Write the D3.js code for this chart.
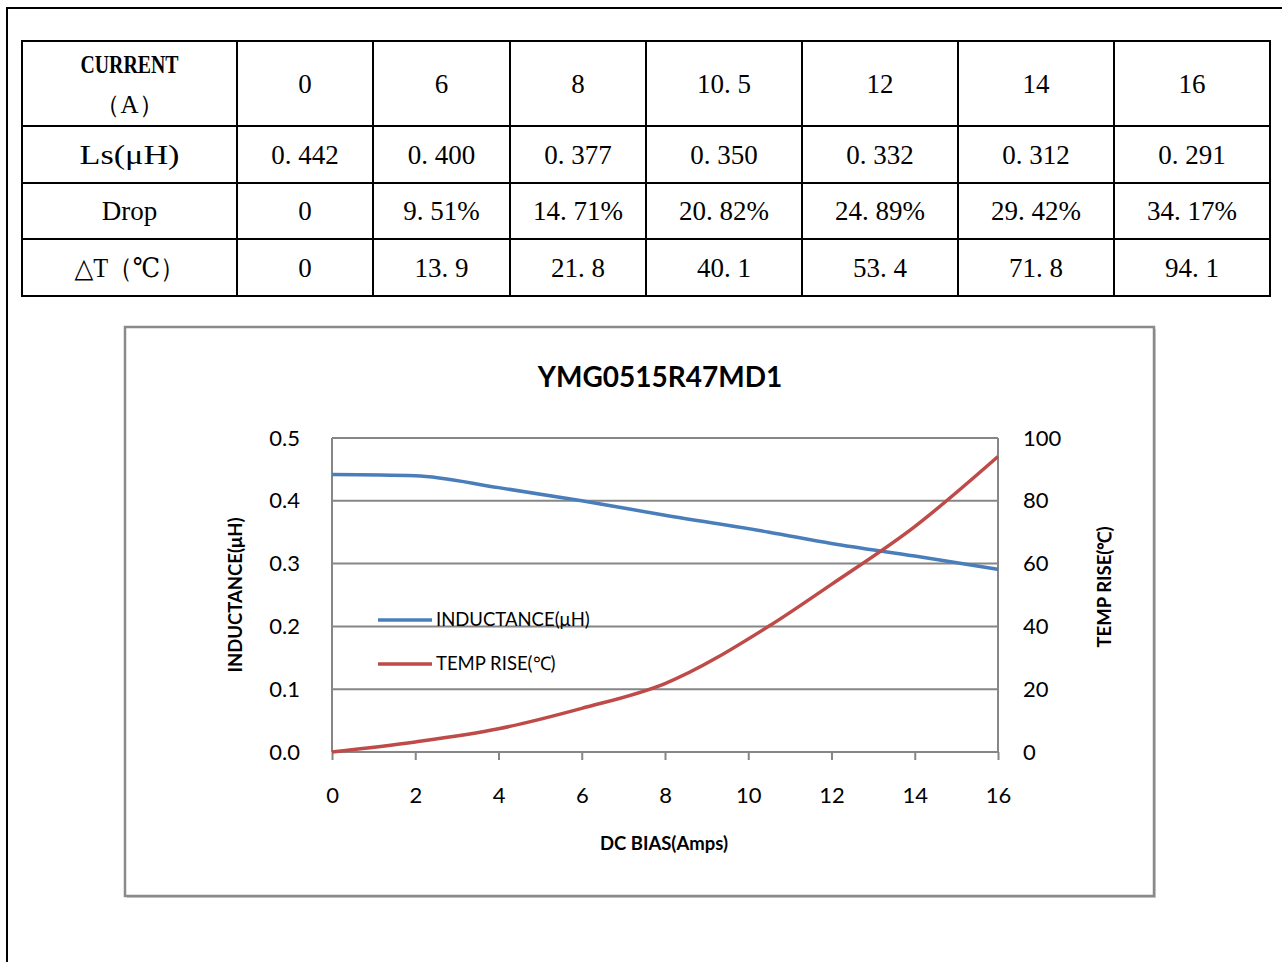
<!DOCTYPE html>
<html>
<head>
<meta charset="utf-8">
<script src="https://cdn.jsdelivr.net/npm/d3@7"></script>
<style>
  body { margin: 0; background: #fff; }
  svg { display: block; }
</style>
</head>
<body>
<svg id="page" width="1282" height="962"></svg>
<script>
// - - - - - - - - - - table data
const current = ['0', '6', '8', '10.5', '12', '14', '16'];
const ls = ['0.442', '0.400', '0.377', '0.350', '0.332', '0.312', '0.291'];
const drop = ['0', '9.51%', '14.71%', '20.82%', '24.89%', '29.42%', '34.17%'];
const deltaT = ['0', '13.9', '21.8', '40.1', '53.4', '71.8', '94.1'];

// - - - - - - - - - - chart data
const biasAmps = [0, 2, 4, 6, 8, 10.5, 12, 14, 16];
const inductance = [0.442, 0.440, 0.421, 0.400, 0.377, 0.350, 0.332, 0.312, 0.291];
const tempRise = [0, 3.2, 7.4, 13.9, 21.8, 40.1, 53.4, 71.8, 94.1];
const xTicks = [0, 2, 4, 6, 8, 10, 12, 14, 16];
const leftTicks = [0, 0.1, 0.2, 0.3, 0.4, 0.5];
const rightTicks = [0, 20, 40, 60, 80, 100];

const svg = d3.select('#page');
const serif = '"Liberation Serif", "DejaVu Serif", serif';
const sans = 'Lato, "Open Sans", sans-serif';

// outer frame
svg.append('rect')
    .attr('x', 7).attr('y', 8).attr('width', 1300).attr('height', 980)
    .attr('fill', 'none').attr('stroke', '#000').attr('stroke-width', 2);

// - - - - - - - - - - table
const colX = [22, 237, 373, 510, 646, 802, 958, 1114, 1270];
const rowY = [41, 126, 183, 239, 296];
const tbl = svg.append('g');

rowY.forEach(y => tbl.append('line')
    .attr('x1', colX[0] - 1).attr('x2', colX[colX.length - 1] + 1)
    .attr('y1', y).attr('y2', y)
    .attr('stroke', '#000').attr('stroke-width', 2));
colX.forEach(x => tbl.append('line')
    .attr('x1', x).attr('x2', x)
    .attr('y1', rowY[0]).attr('y2', rowY[rowY.length - 1])
    .attr('stroke', '#000').attr('stroke-width', 2));

// SimSun-like wide period
const wide = s => s.replace('.', '. ');

function cell(col, row, txt, opt = {}) {
    const cx = (colX[col] + colX[col + 1]) / 2;
    const cy = (rowY[row] + rowY[row + 1]) / 2;
    const t = tbl.append('text')
        .attr('x', cx).attr('y', opt.y || cy)
        .attr('text-anchor', 'middle')
        .attr('dominant-baseline', 'central')
        .attr('font-family', serif)
        .attr('font-size', opt.size || 27)
        .attr('font-weight', opt.weight || 'normal')
        .attr('fill', '#000')
        .text(txt);
    if (opt.ls) t.attr('letter-spacing', opt.ls);
    if (opt.len) t.attr('textLength', opt.len).attr('lengthAdjust', 'spacingAndGlyphs');
    return t;
}

cell(0, 0, 'CURRENT', { y: 64, weight: 'bold', size: 25, len: 98 });
cell(0, 0, '（A）', { y: 104, size: 25 });
cell(0, 1, 'Ls(μH)', { size: 27, len: 100 });
cell(0, 2, 'Drop', { size: 27 });
cell(0, 3, '△T（℃）', { size: 27, len: 110 });

current.forEach((v, i) => cell(i + 1, 0, wide(v)));
ls.forEach((v, i) => cell(i + 1, 1, wide(v)));
drop.forEach((v, i) => cell(i + 1, 2, wide(v)));
deltaT.forEach((v, i) => cell(i + 1, 3, wide(v)));

// - - - - - - - - - - chart
svg.append('rect')
    .attr('x', 127).attr('y', 329).attr('width', 1029).attr('height', 569)
    .attr('fill', '#d0d0d0');
svg.append('rect')
    .attr('x', 125).attr('y', 327).attr('width', 1029).attr('height', 569)
    .attr('fill', '#fff').attr('stroke', '#8a8a8a').attr('stroke-width', 2.5);

const x = d3.scaleLinear().domain([0, 16]).range([332, 998]);
const yL = d3.scaleLinear().domain([0, 0.5]).range([752, 438]);
const yR = d3.scaleLinear().domain([0, 100]).range([752, 438]);

const grid = '#868686';

// gridlines + plot border
svg.append('g').selectAll('line').data(leftTicks).join('line')
    .attr('x1', x(0)).attr('x2', x(16))
    .attr('y1', d => yL(d)).attr('y2', d => yL(d))
    .attr('stroke', grid).attr('stroke-width', 2);
svg.append('line').attr('x1', x(0)).attr('x2', x(0))
    .attr('y1', yL(0.5)).attr('y2', yL(0))
    .attr('stroke', grid).attr('stroke-width', 2);
svg.append('line').attr('x1', x(16)).attr('x2', x(16))
    .attr('y1', yL(0.5)).attr('y2', yL(0))
    .attr('stroke', grid).attr('stroke-width', 2);

// axes
const gx = svg.append('g').attr('transform', `translate(0,${yL(0)})`)
    .call(d3.axisBottom(x).tickValues(xTicks).tickSize(8).tickPadding(27).tickFormat(d3.format('d')));
const gl = svg.append('g').attr('transform', `translate(${x(0)},0)`)
    .call(d3.axisLeft(yL).tickValues(leftTicks).tickSize(0).tickPadding(32).tickFormat(d3.format('.1f')));
const gr = svg.append('g').attr('transform', `translate(${x(16)},0)`)
    .call(d3.axisRight(yR).tickValues(rightTicks).tickSize(0).tickPadding(25).tickFormat(d3.format('d')));

[gx, gl, gr].forEach(g => {
    g.select('.domain').remove();
    g.selectAll('line').attr('stroke', grid).attr('stroke-width', 2);
    g.selectAll('text').attr('font-family', sans).attr('font-size', 22).attr('fill', '#000');
});

// lines
const lineL = d3.line().x((d, i) => x(biasAmps[i])).y(d => yL(d)).curve(d3.curveMonotoneX);
const lineR = d3.line().x((d, i) => x(biasAmps[i])).y(d => yR(d)).curve(d3.curveMonotoneX);

svg.append('path').datum(inductance).attr('d', lineL)
    .attr('fill', 'none').attr('stroke', '#4a7ebb').attr('stroke-width', 3.5);
svg.append('path').datum(tempRise).attr('d', lineR)
    .attr('fill', 'none').attr('stroke', '#be4b48').attr('stroke-width', 3.5);

// title
svg.append('text').attr('x', 660).attr('y', 387)
    .attr('text-anchor', 'middle').attr('font-family', sans)
    .attr('font-weight', 'bold').attr('font-size', 28).text('YMG0515R47MD1');

// axis titles
svg.append('text').attr('transform', 'translate(242,595) rotate(-90)')
    .attr('text-anchor', 'middle').attr('font-family', sans)
    .attr('font-weight', 'bold').attr('font-size', 18.5).text('INDUCTANCE(μH)');
svg.append('text').attr('transform', 'translate(1111,587) rotate(-90)')
    .attr('text-anchor', 'middle').attr('font-family', sans)
    .attr('font-weight', 'bold').attr('font-size', 18.5).text('TEMP RISE(℃)');
svg.append('text').attr('x', 664).attr('y', 850)
    .attr('text-anchor', 'middle').attr('font-family', sans)
    .attr('font-weight', 'bold').attr('font-size', 18.5).text('DC BIAS(Amps)');

// legend
const legend = [
    { label: 'INDUCTANCE(μH)', color: '#4a7ebb', y: 620 },
    { label: 'TEMP RISE(℃)', color: '#be4b48', y: 664 }
];
const lg = svg.append('g').selectAll('g').data(legend).join('g');
lg.append('line').attr('x1', 378).attr('x2', 432)
    .attr('y1', d => d.y).attr('y2', d => d.y)
    .attr('stroke', d => d.color).attr('stroke-width', 3.5);
lg.append('text').attr('x', 436).attr('y', d => d.y + 6)
    .attr('font-family', sans).attr('font-size', 18.5).attr('fill', '#000')
    .text(d => d.label);
</script>
</body>
</html>
